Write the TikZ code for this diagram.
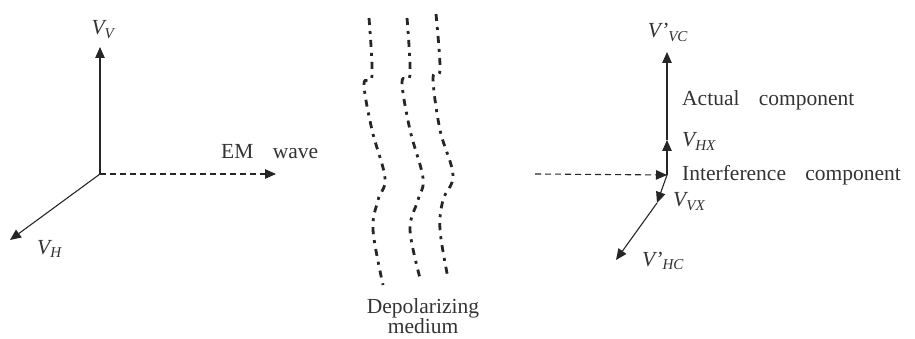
\documentclass[tikz,border=0pt]{standalone}
\usepackage{fontspec}
\setmainfont[WordSpace=3.6]{Liberation Serif}
\usetikzlibrary{arrows.meta}

% italic voltage label: \volt{prime}{subscript}
\newcommand{\volt}[2]{\textit{V#1\textsubscript{#2}}}

\begin{document}
\begin{tikzpicture}[x=1pt, y=-1pt, >={Triangle[length=11pt,width=9.5pt]},
    every node/.style={font=\fontsize{21.5}{22}\selectfont, inner sep=0pt, text=black!80},
    vec/.style={->, line width=1.1pt, black!85},
    ray/.style={->, line width=1.1pt, black!85, dash pattern=on 6pt off 4pt},
    medium/.style={line width=2.8pt, black!85, dash pattern=on 7pt off 6pt on 3pt off 6pt}]
        \useasboundingbox (0,0) rectangle (915,339);

        % --- 1. Incident wave ---
        \coordinate (O) at (100,174);
        \coordinate (VV) at (100,47);
        \coordinate (VH) at (10,240);
        \coordinate (EM) at (276,174);

        \draw[vec] (O) -- (VV);
        \draw[vec] (O) -- (VH);
        \draw[ray] (O) -- (EM);

        \node[anchor=base] (labVV) at (103,35) {\volt{}{V}};
        \node[anchor=base west] (labVH) at (37,254) {\volt{}{H}};
        \node[anchor=base west] (labEM) at (221,159) {EM wave};

        % --- 2. Depolarizing medium ---
        \draw[medium] plot[smooth, tension=0.6] coordinates
            {(369,18) (372,76) (364,84) (372,130) (385,178) (378,200) (373,230) (383,285)};
        \draw[medium] plot[smooth, tension=0.6] coordinates
            {(407,18) (410,75) (402,82) (410,130) (423,178) (418,200) (410,230) (421,282)};
        \draw[medium] plot[smooth, tension=0.6] coordinates
            {(436,14) (440,70) (433,78) (440,130) (453,175) (443,200) (440,230) (448,278)};

        \node[anchor=north, align=center, font=\fontsize{21.5}{19.5}\selectfont]
            (labMed) at (423,298) {Depolarizing\\medium};

        % --- 3. Depolarized wave ---
        \coordinate (In) at (535,174);
        \coordinate (C) at (667,175);
        \coordinate (HX) at (667,140);
        \coordinate (VC) at (667,52);
        \coordinate (VX) at (657,203);
        \coordinate (HC) at (616,260);

        \draw[ray] (In) -- (C);
        \draw[vec] (C) -- (HX);
        \draw[vec] (HX) -- (VC);
        \draw[vec] (C) -- (VX);
        \draw[vec] (VX) -- (HC);

        \node[anchor=base] (labVC) at (668,38) {\volt{’}{VC}};
        \node[anchor=base west] (labAct) at (682,106) {Actual component};
        \node[anchor=base west] (labHX) at (682,147) {\volt{}{HX}};
        \node[anchor=base west] (labInt) at (682,181) {Interference component};
        \node[anchor=base west] (labVX) at (673,207) {\volt{}{VX}};
        \node[anchor=base west] (labHC) at (642,266) {\volt{’}{HC}};
    \end{tikzpicture}
\end{document}
